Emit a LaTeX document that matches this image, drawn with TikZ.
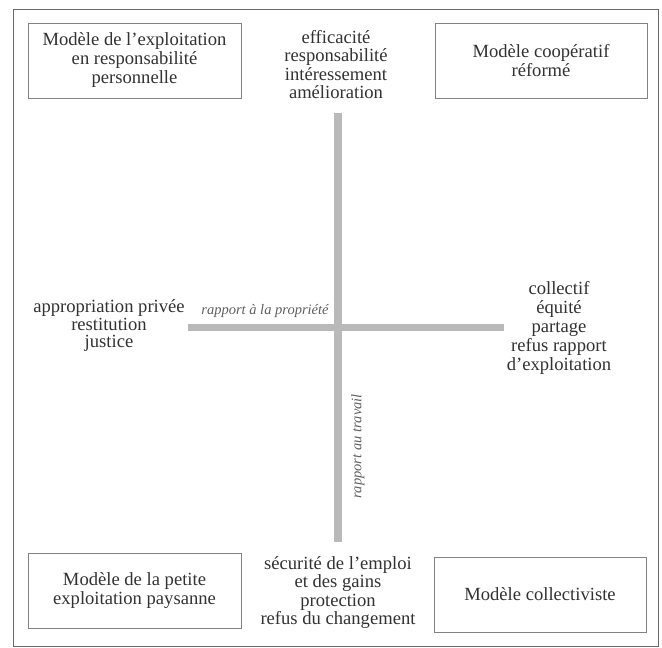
\documentclass[tikz,border=0pt]{standalone}
\usepackage{fontspec}
\setmainfont{Liberation Serif}
\usetikzlibrary{positioning}
\definecolor{inkgray}{RGB}{50,50,50}
\definecolor{boxgray}{RGB}{130,130,130}
\definecolor{bargray}{RGB}{185,185,185}
\definecolor{labgray}{RGB}{95,95,95}
\tikzset{
  modelbox/.style={draw=boxgray, line width=0.9pt, inner sep=0pt, align=center,
    text=inkgray, font=\fontsize{18.6}{19}\selectfont},
  valtext/.style={inner sep=0pt, align=center, text=inkgray,
    font=\fontsize{18.6}{18.3}\selectfont},
  axislab/.style={inner sep=0pt, text=labgray, font=\fontsize{14.5}{16}\selectfont\itshape},
  axisbar/.style={draw=bargray, line width=7.5pt}
}

\begin{document}
\begin{tikzpicture}[x=1pt, y=-1pt]
\useasboundingbox (0,0) rectangle (662,648);

%draw frame
\draw[boxgray!80!black, line width=1pt] (13.5,9) rectangle (658.5,646);

%draw the four models
\node (persmod) [modelbox, minimum width=213pt, minimum height=75pt] at (134.5,60.5)
  {Modèle de l’exploitation\\en responsabilité\\personnelle};
\node (coopmod) [modelbox, minimum width=212pt, minimum height=75pt] at (541,60.5)
  {Modèle coopératif\\réformé};
\node (paysmod) [modelbox, minimum width=213pt, minimum height=75pt] at (134.5,590.5)
  {Modèle de la petite\\exploitation paysanne};
\node (collmod) [modelbox, minimum width=212pt, minimum height=75pt] at (540,594.5)
  {Modèle collectiviste};

%draw the values at the ends of the axes
\node (topval) [valtext] at (336,64.5)
  {efficacité\\responsabilité\\intéressement\\amélioration};
\node (botval) [valtext] at (338,592.5)
  {sécurité de l’emploi\\et des gains\\protection\\refus du changement};
\node (leftval) [valtext, font=\fontsize{18.6}{17.5}\selectfont] at (109,326)
  {appropriation privée\\restitution\\justice};
\node (rightval) [valtext, font=\fontsize{18.6}{18.8}\selectfont] at (559,328)
  {collectif\\équité\\partage\\refus rapport\\d’exploitation};

%draw axes
\coordinate (vtop) at (338,113);
\coordinate (vbot) at (338,542);
\coordinate (hleft) at (188,327.5);
\coordinate (hright) at (504,327.5);
\draw[axisbar] (hleft) -- (hright);
\draw[axisbar] (vtop) -- (vbot);

\node (proplab) [axislab] at (265,311) {rapport à la propriété};
\node (travlab) [axislab, rotate=90] at (358,446.5) {rapport au travail};

\end{tikzpicture}
\end{document}
